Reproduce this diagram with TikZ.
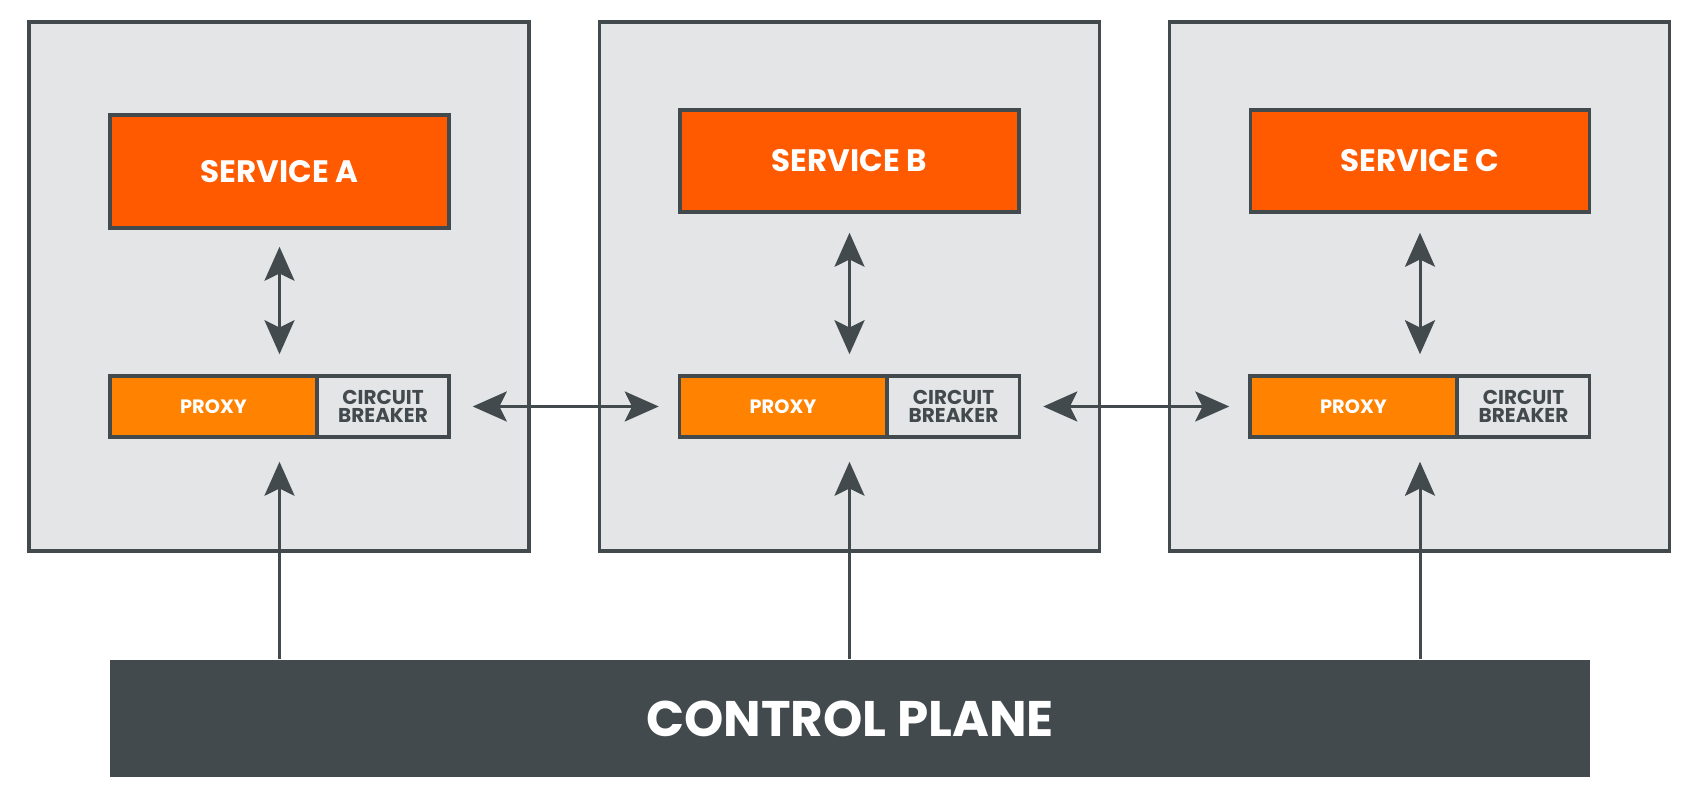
\documentclass[tikz,border=0pt]{standalone}
\usepackage{fontspec}
\setmainfont{Poppins}
\usetikzlibrary{arrows.meta,calc}

\definecolor{boxgray}{HTML}{E4E5E7}
\definecolor{linegray}{HTML}{424A4E}
\definecolor{svcorange}{HTML}{FF5A00}
\definecolor{proxyorange}{HTML}{FF8200}

\def\u{0.3pt}

\tikzset{
	hostbox/.style={draw=linegray,fill=boxgray,line width=3.2*\u,inner sep=0pt,minimum width=500*\u,minimum height=529*\u},
	svcbox/.style={draw=linegray,fill=svcorange,line width=3.5*\u,inner sep=0pt,minimum width=339*\u,text=white,font=\fontsize{9.3}{11}\selectfont\bfseries},
	proxybox/.style={draw=linegray,fill=proxyorange,line width=3.5*\u,inner sep=0pt,minimum width=207*\u,minimum height=61*\u,text=white,font=\fontsize{5.8}{7}\selectfont\bfseries},
	cbbox/.style={draw=linegray,fill=boxgray,line width=3.5*\u,inner sep=0pt,minimum width=132*\u,minimum height=61*\u,text=linegray,align=center,font=\fontsize{6}{5.6}\selectfont\bfseries},
	planebox/.style={fill=linegray,inner sep=0pt,minimum width=1480*\u,minimum height=117*\u,text=white,font=\fontsize{15}{17}\selectfont\bfseries},
	link/.style={draw=linegray,line width=3*\u,{Stealth[length=10.2pt,width=9pt,inset=2.2pt]}-{Stealth[length=10.2pt,width=9pt,inset=2.2pt]}},
	feed/.style={draw=linegray,line width=3*\u,-{Stealth[length=10.2pt,width=9pt,inset=2.2pt]}}
}

\begin{document}
\begin{tikzpicture}[x=\u,y=-\u]
	\useasboundingbox (0,0) rectangle (1701,801);
	% hosts
	\node[hostbox] (hostA) at (279,286.5) {};
	\node[hostbox] (hostB) at (849.5,286.5) {};
	\node[hostbox] (hostC) at (1419.5,286.5) {};
	% services
	\node[svcbox,minimum height=113*\u] (svcA) at (279.5,171.5) {SERVICE A};
	\node[svcbox,minimum height=102*\u] (svcB) at (849.5,161) {SERVICE B};
	\node[svcbox,minimum height=102*\u] (svcC) at (1420,161) {SERVICE C};
	% sidecars
	\node[proxybox] (pA) at (213.5,406.5) {PROXY};
	\node[cbbox] (cbA) at (383,406.5) {CIRCUIT\\BREAKER};
	\node[proxybox] (pB) at (783,406.5) {PROXY};
	\node[cbbox] (cbB) at (953.5,406.5) {CIRCUIT\\BREAKER};
	\node[proxybox] (pC) at (1353.5,406.5) {PROXY};
	\node[cbbox] (cbC) at (1523.5,406.5) {CIRCUIT\\BREAKER};
	% control plane
	\node[planebox] (cp) at (850,718.5) {CONTROL PLANE};

	\draw[link,shorten <=5.1pt,shorten >=6pt] (svcA.south) -- (svcA.south |- pA.north);
	\draw[link,shorten <=5.7pt,shorten >=6pt] (svcB.south) -- (svcB.south |- pB.north);
	\draw[link,shorten <=5.7pt,shorten >=6pt] (svcC.south) -- (svcC.south |- pC.north);
	\draw[link,shorten <=6.6pt,shorten >=5.7pt] (cbA.east) -- (pB.west);
	\draw[link,shorten <=6.6pt,shorten >=5.7pt] (cbB.east) -- (pC.west);
	\draw[feed,shorten >=6.9pt] (cp.north -| svcA.south) -- (svcA.south |- pA.south);
	\draw[feed,shorten >=6.9pt] (cp.north -| svcB.south) -- (svcB.south |- pB.south);
	\draw[feed,shorten >=6.9pt] (cp.north -| svcC.south) -- (svcC.south |- pC.south);
\end{tikzpicture}
\end{document}
